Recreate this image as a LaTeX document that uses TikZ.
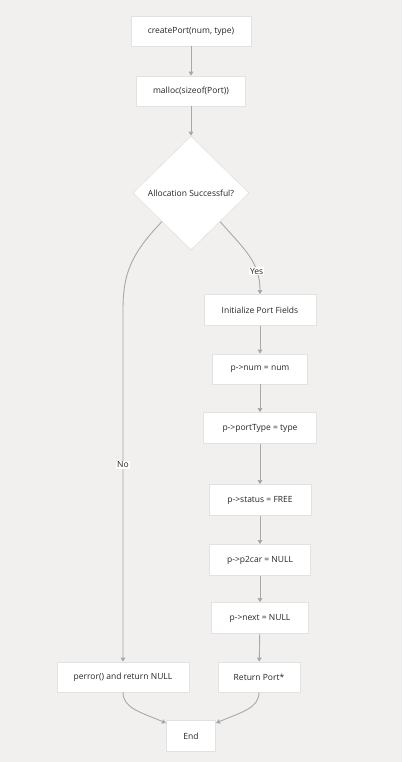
\documentclass[tikz,border=0pt]{standalone}
\usepackage{fontspec}
\setmainfont{Open Sans}
\usetikzlibrary{shapes.geometric,arrows.meta}
\definecolor{bg}{HTML}{F2F0EF}
\definecolor{edge}{HTML}{A8A8A8}
\definecolor{bord}{HTML}{E2E2E2}
\begin{document}
\begin{tikzpicture}[x=1pt,y=-1pt,
  box/.style={draw=bord,line width=0.6pt,fill=white,inner sep=0pt,font=\fontsize{8.5}{10}\selectfont,text=black!85},
  dia/.style={diamond,draw=bord,line width=0.6pt,fill=white,inner sep=0pt,minimum width=116pt,minimum height=114pt,font=\fontsize{8.5}{10}\selectfont,text=black!85},
  arr/.style={draw=edge,line width=0.9pt,-{Triangle[length=4pt,width=4.5pt]}},
  lbl/.style={fill=white,inner sep=1pt,font=\fontsize{8.5}{10}\selectfont,text=black!85}]
\fill[bg] (0,0) rectangle (402,762);
\useasboundingbox (0,0) rectangle (402,762);
\node[box,minimum width=120pt,minimum height=30pt] (a) at (191,31) {createPort(num, type)};
\node[box,minimum width=109pt,minimum height=30pt] (b) at (191,91) {malloc(sizeof(Port))};
\node[dia] (c) at (191,193) {Allocation Successful?};
\node[box,minimum width=112pt,minimum height=31pt] (d) at (260,310) {Initialize Port Fields};
\node[box,minimum width=95pt,minimum height=30pt] (e) at (260,369) {p->num = num};
\node[box,minimum width=113pt,minimum height=31pt] (f) at (260,428) {p->portType = type};
\node[box,minimum width=102pt,minimum height=31pt] (g) at (260,500) {p->status = FREE};
\node[box,minimum width=101pt,minimum height=31pt] (h) at (260,560) {p->p2car = NULL};
\node[box,minimum width=97pt,minimum height=31pt] (i) at (260,618) {p->next = NULL};
\node[box,minimum width=82pt,minimum height=30pt] (j) at (259,677) {Return Port*};
\node[box,minimum width=132pt,minimum height=30pt] (k) at (123,677) {perror() and return NULL};
\node[box,minimum width=49pt,minimum height=31pt] (l) at (191,736) {End};
\coordinate (endw) at (166,723);
\coordinate (ende) at (216,723);
\draw[arr] (a) -- (b);
\draw[arr] (b) -- (c);
\draw[arr] (c.south east) .. controls (245,250) and (260,262) .. node[lbl,pos=0.72] (yes) {Yes} (d.north);
\draw[arr] (c.south west) .. controls (130,255) and (123,275) .. (123,310) -- node[lbl,pos=0.44] (no) {No} (k.north);
\draw[arr] (d) -- (e);
\draw[arr] (e) -- (f);
\draw[arr] (f) -- (g);
\draw[arr] (g) -- (h);
\draw[arr] (h) -- (i);
\draw[arr] (i) -- (j);
\draw[arr] (k.south) .. controls (123,708) and (140,712) .. (endw);
\draw[arr] (j.south) .. controls (259,708) and (242,712) .. (ende);
\end{tikzpicture}
\end{document}
